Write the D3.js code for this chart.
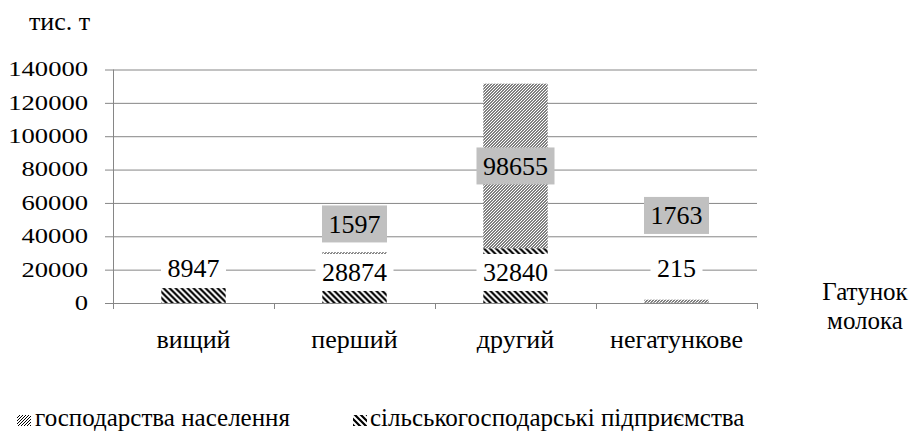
<!DOCTYPE html>
<html>
<head>
<meta charset="utf-8">
<script src="https://cdn.jsdelivr.net/npm/d3@7"></script>
<style>
  body { margin: 0; background: #fff; }
  .serif { font-family: 'DejaVu Serif'; }
</style>
</head>
<body>
<svg id="chart" width="913" height="432"></svg>
<script>
// --- data (тис. т) ---
const categories  = ['вищий', 'перший', 'другий', 'негатункове'];
const enterprises = [8947, 28874, 32840, 215];   // сільськогосподарські підприємства
const households  = [0, 1597, 98655, 1763];      // господарства населення
const yTicks      = [0, 20000, 40000, 60000, 80000, 100000, 120000, 140000];
// label anchors (value units) - labels were dragged by hand in the original
const entLabelAt  = [20700, 18300, 18300, 20700];
const popLabelAt  = [null, 47400, null, 52500];   // null -> middle of segment

const seriesNames = { pop: 'господарства населення', ent: 'сільськогосподарські підприємства' };

const FONT = "'Liberation Serif', 'DejaVu Serif', serif";
const W = 913, H = 432;
const m = { left: 113, top: 69.5, right: 156, bottom: 129 };
const w = W - m.left - m.right;
const h = H - m.top - m.bottom;
const gridColor = '#868686';

const svg = d3.select('#chart');
const defs = svg.append('defs');

// wide downward diagonal
const pEnt = defs.append('pattern').attr('id', 'hatchEnt')
  .attr('patternUnits', 'userSpaceOnUse').attr('width', 6).attr('height', 6);
pEnt.append('rect').attr('width', 6).attr('height', 6).attr('fill', '#fff');
pEnt.append('path').attr('d', 'M0,0L6,6M-3,3L3,9M3,-3L9,3')
  .attr('stroke', '#000').attr('stroke-width', 2.2);

// dark upward diagonal
const pPop = defs.append('pattern').attr('id', 'hatchPop')
  .attr('patternUnits', 'userSpaceOnUse').attr('width', 3).attr('height', 3);
pPop.append('rect').attr('width', 3).attr('height', 3).attr('fill', '#fff');
pPop.append('path').attr('d', 'M0,3L3,0M-1,1L1,-1M2,4L4,2')
  .attr('stroke', '#000').attr('stroke-width', 1);

const fills = { ent: 'url(#hatchEnt)', pop: 'url(#hatchPop)' };

const g = svg.append('g').attr('transform', `translate(${m.left},${m.top})`);

const x = d3.scaleBand().domain(categories).range([0, w])
  .paddingInner(0.6).paddingOuter(0.3);
const y = d3.scaleLinear().domain([0, 140000]).range([h, 0]);

// gridlines + y tick labels
const gy = g.append('g').attr('transform', 'translate(-8,0)')
  .call(d3.axisLeft(y).tickValues(yTicks).tickSize(-(w + 8)).tickFormat(d => d));
gy.attr('font-family', FONT);
gy.select('.domain').remove();
gy.selectAll('line').attr('stroke', gridColor);
gy.selectAll('text')
  .attr('x', 0)
  .attr('transform', 'translate(-17,0) scale(1.33,1)')
  .attr('font-size', 20);

// vertical axis line
g.append('line').attr('x1', 0.5).attr('x2', 0.5).attr('y1', 0).attr('y2', h)
  .attr('stroke', gridColor);

// category boundary ticks
const xb = d3.scaleLinear().domain([0, categories.length]).range([0, w]);
const gb = g.append('g').attr('transform', `translate(0,${h})`)
  .call(d3.axisBottom(xb).ticks(categories.length).tickSize(6).tickSizeOuter(0).tickFormat(''));
gb.selectAll('line, path').attr('stroke', gridColor);

// category labels
const gx = g.append('g').attr('transform', `translate(0,${h})`)
  .call(d3.axisBottom(x).tickSize(0).tickPadding(26.5));
gx.attr('font-family', FONT);
gx.select('.domain').remove();
gx.selectAll('text').attr('font-size', 26);

// stacked bars
const rows = categories.map((c, i) => ({ cat: c, ent: enterprises[i], pop: households[i] }));
const stack = d3.stack().keys(['ent', 'pop'])(rows);

g.selectAll('.series').data(stack).join('g')
  .attr('class', 'series')
  .attr('fill', s => fills[s.key])
  .selectAll('rect').data(s => s).join('rect')
    .attr('x', d => x(d.data.cat))
    .attr('width', x.bandwidth())
    .attr('y', d => y(d[1]))
    .attr('height', d => y(d[0]) - y(d[1]));

// data labels
function addLabel(cx, cy, txt, boxFill) {
  const lg = g.append('g').attr('class', 'dlabel');
  const rect = lg.append('rect').attr('fill', boxFill);
  const t = lg.append('text')
    .attr('x', cx).attr('y', cy + 9)
    .attr('text-anchor', 'middle')
    .attr('font-family', FONT)
    .attr('font-size', 26)
    .text(txt);
  const tw = t.node().getComputedTextLength();
  rect.attr('x', cx - tw / 2 - 6.5).attr('width', tw + 13)
    .attr('y', cy - 18.5).attr('height', 37);
}

stack.forEach(s => {
  s.forEach((d, i) => {
    const v = d[1] - d[0];
    if (!v) return;
    const cx = x(d.data.cat) + x.bandwidth() / 2;
    if (s.key === 'ent') {
      addLabel(cx, y(entLabelAt[i]), v, '#fff');
    } else {
      const at = popLabelAt[i] == null ? (d[0] + d[1]) / 2 : popLabelAt[i];
      addLabel(cx, y(at), v, '#c0c0c0');
    }
  });
});

// axis titles
function title(tx, ty, txt, size, anchor) {
  svg.append('text').attr('x', tx).attr('y', ty)
    .attr('text-anchor', anchor || 'start')
    .attr('font-family', FONT).attr('font-size', size)
    .text(txt);
}
title(29, 30, 'тис. т', 26);
title(865, 300, 'Гатунок', 25, 'middle');
title(865, 329, 'молока', 25, 'middle');

// legend
const legendItems = [
  { key: 'pop', sx: 17, tx: 35 },
  { key: 'ent', sx: 353, tx: 370 }
];
const leg = svg.append('g').attr('class', 'legend');
legendItems.forEach(it => {
  leg.append('rect').attr('x', it.sx).attr('y', 415).attr('width', 14).attr('height', 11)
    .attr('fill', fills[it.key]);
  leg.append('text').attr('x', it.tx).attr('y', 426)
    .attr('font-family', FONT).attr('font-size', 25)
    .text(seriesNames[it.key]);
});
</script>
</body>
</html>
